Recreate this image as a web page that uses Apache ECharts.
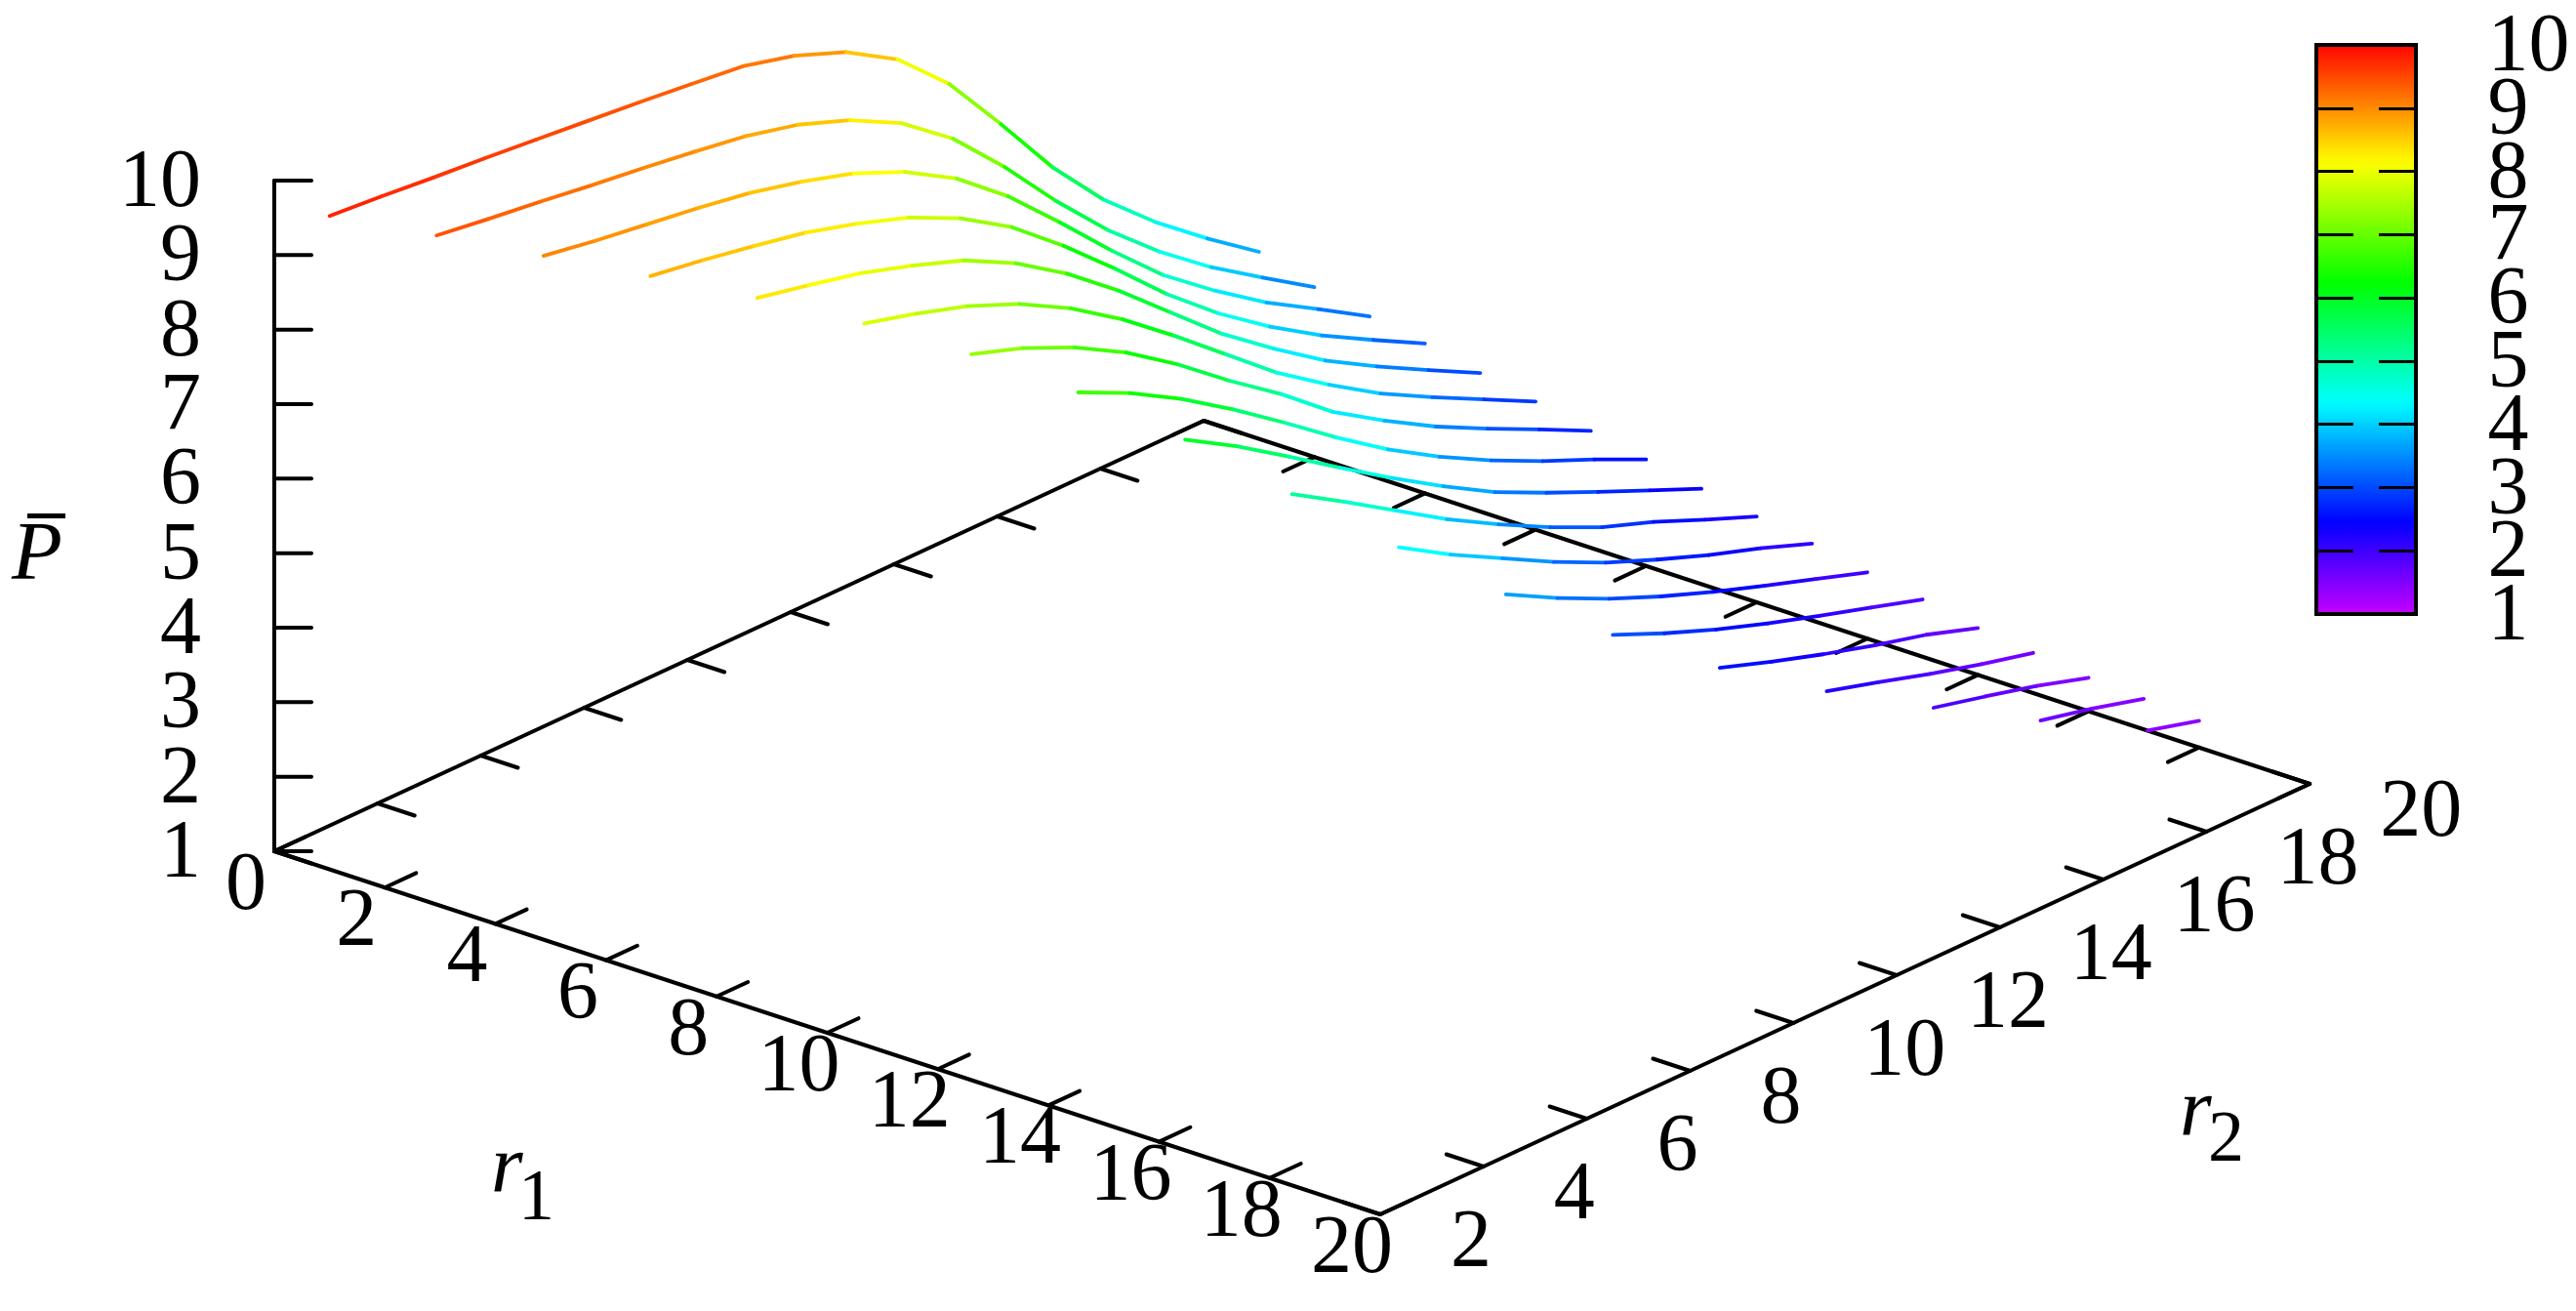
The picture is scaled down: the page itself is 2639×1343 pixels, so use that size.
<!DOCTYPE html>
<html>
<head>
<meta charset="utf-8">
<title>P bar</title>
<style>
html, body { margin: 0; padding: 0; background: #fff; }
#main { width: 2639px; height: 1343px; }
</style>
<script src="https://cdn.jsdelivr.net/npm/echarts@6/dist/echarts.min.js"></script>
</head>
<body>
<div id="main"></div>
<script>
// one curve per r1, r2 runs from r1+1 up to 20
var r1Values = [1, 2, 3, 4, 5, 6, 7, 8, 9, 10, 11, 12, 13, 14, 15, 16, 17, 18];
var pR1_1 = [9.77, 9.71, 9.64, 9.58, 9.51, 9.44, 9.37, 9.29, 9.21, 9.03, 8.76, 8.34, 7.69, 6.83, 5.93, 5.17, 4.55, 4.01, 3.51];
var pR1_2 = [9.43, 9.33, 9.24, 9.14, 9.05, 8.95, 8.84, 8.67, 8.41, 8.05, 7.52, 6.82, 6.04, 5.33, 4.72, 4.19, 3.73, 3.28];
var pR1_3 = [9.08, 8.96, 8.86, 8.76, 8.64, 8.47, 8.26, 7.96, 7.55, 6.99, 6.32, 5.62, 4.97, 4.44, 3.96, 3.55, 3.13];
var pR1_4 = [8.73, 8.62, 8.49, 8.35, 8.15, 7.91, 7.58, 7.14, 6.57, 5.94, 5.28, 4.70, 4.20, 3.76, 3.38, 3.01];
var pR1_5 = [8.36, 8.21, 8.05, 7.83, 7.58, 7.22, 6.76, 6.21, 5.60, 4.99, 4.47, 3.99, 3.59, 3.22, 2.86];
var pR1_6 = [7.94, 7.75, 7.53, 7.24, 6.86, 6.39, 5.85, 5.28, 4.71, 4.23, 3.79, 3.42, 3.07, 2.72];
var pR1_7 = [7.45, 7.21, 6.90, 6.51, 6.03, 5.49, 4.99, 4.43, 3.99, 3.59, 3.24, 2.91, 2.57];
var pR1_8 = [6.86, 6.53, 6.13, 5.67, 5.17, 4.65, 4.17, 3.75, 3.38, 3.05, 2.75, 2.43];
var pR1_9 = [6.15, 5.74, 5.28, 4.81, 4.35, 3.92, 3.52, 3.19, 2.88, 2.58, 2.28];
var pR1_10 = [5.34, 4.92, 4.48, 4.04, 3.65, 3.29, 2.97, 2.72, 2.43, 2.15];
var pR1_11 = [4.55, 4.13, 3.76, 3.39, 3.06, 2.78, 2.52, 2.29, 2.03];
var pR1_12 = [3.84, 3.47, 3.14, 2.85, 2.59, 2.35, 2.12, 1.89];
var pR1_13 = [3.22, 2.92, 2.65, 2.41, 2.19, 1.98, 1.77];
var pR1_14 = [2.70, 2.46, 2.24, 2.04, 1.86, 1.63];
var pR1_15 = [2.31, 2.11, 1.90, 1.71, 1.54];
var pR1_16 = [2.01, 1.84, 1.66, 1.45];
var pR1_17 = [1.76, 1.60, 1.41];
var pR1_18 = [1.55, 1.36];
var pCurves = [pR1_1, pR1_2, pR1_3, pR1_4, pR1_5, pR1_6, pR1_7, pR1_8, pR1_9, pR1_10, pR1_11, pR1_12, pR1_13, pR1_14, pR1_15, pR1_16, pR1_17, pR1_18];

// tick labels
var r1Ticks = [0, 2, 4, 6, 8, 10, 12, 14, 16, 18, 20];
var r2Ticks = [2, 4, 6, 8, 10, 12, 14, 16, 18, 20];
var pTicks = [1, 2, 3, 4, 5, 6, 7, 8, 9, 10];

var FONT = '"Liberation Serif", "Times New Roman", serif';

// view of the box, gnuplot style orthographic
function project(r1, r2, p) {
    return [
        281 + 56.65 * r1 + 52.9 * (r2 - 2),
        872 + 18.6 * r1 - 24.5 * (r2 - 2) - 76.33 * (p - 1)
    ];
}

// same rainbow as the colour box
function paletteColor(z) {
    return 'hsl(' + ((10 - z) * 31.9) + ',100%,50%)';
}

//曲线分段, each piece gets one colour
var curveSegments = [];
for (var i = 0; i < r1Values.length; i++) {
    var r1 = r1Values[i];
    var vals = pCurves[i];
    for (var j = 0; j < vals.length - 1; j++) {
        curveSegments.push([r1, r1 + 1 + j, vals[j], r1, r1 + 2 + j, vals[j + 1]]);
    }
}

var frameEdges = [
    [0, 2, 1, 20, 2, 1],
    [20, 2, 1, 20, 20, 1],
    [0, 2, 1, 0, 20, 1],
    [0, 20, 1, 20, 20, 1],
    [0, 2, 1, 0, 2, 10]
];

// tick start plus pixel length
var frameTicks = [];
r1Ticks.forEach(function (t) {
    frameTicks.push([t, 2, 1, 32, -14.8]);
    frameTicks.push([t, 20, 1, -32, 14.8]);
});
r2Ticks.forEach(function (t) {
    frameTicks.push([20, t, 1, -38, -12.5]);
    frameTicks.push([0, t, 1, 38, 12.5]);
});
pTicks.forEach(function (t) {
    frameTicks.push([0, 2, t, 38, 0]);
});

// value, anchor point, pixel shift, align
var tickLabels = [];
r1Ticks.forEach(function (t) {
    tickLabels.push([String(t), t, 2, 1, -29, 37, 'center']);
});
r2Ticks.forEach(function (t) {
    tickLabels.push([String(t), 20, t, 1, 72, 31, 'left']);
});
pTicks.forEach(function (t) {
    tickLabels.push([String(t), 0, 2, t, -75, 4, 'right']);
});

function renderSegment(params, api) {
    var a = project(api.value(0), api.value(1), api.value(2));
    var b = project(api.value(3), api.value(4), api.value(5));
    var s = api.coord(a);
    var e = api.coord(b);
    return {
        type: 'line',
        shape: { x1: s[0], y1: s[1], x2: e[0], y2: e[1] },
        style: { stroke: this.color(api), lineWidth: this.width, lineCap: 'round' }
    };
}

function renderTick(params, api) {
    var s = api.coord(project(api.value(0), api.value(1), api.value(2)));
    return {
        type: 'line',
        shape: { x1: s[0], y1: s[1], x2: s[0] + api.value(3), y2: s[1] + api.value(4) },
        style: { stroke: '#000', lineWidth: 4, lineCap: 'round' }
    };
}

function renderTickLabel(params, api) {
    var item = tickLabels[params.dataIndex];
    var s = api.coord(project(item[1], item[2], item[3]));
    return {
        type: 'text',
        x: s[0] + item[4],
        y: s[1] + item[5],
        style: { text: item[0], fontFamily: FONT, fontSize: 84, fill: '#000', align: item[6], verticalAlign: 'middle' }
    };
}

// titles: letter plus subscript
function renderTitles(params, api) {
    return {
        type: 'group',
        children: [
            titleText('r', 503, 1199, 84, 'italic'),
            titleText('1', 531, 1230, 74, 'normal'),
            titleText('r', 2233, 1141, 84, 'italic'),
            titleText('2', 2262, 1170, 74, 'normal'),
            titleText('P', 12, 571, 85, 'italic'),
            { type: 'rect', shape: { x: 28, y: 526, width: 39, height: 5 }, style: { fill: '#000' } }
        ]
    };
}

function titleText(txt, x, y, size, fontStyle) {
    return {
        type: 'text',
        x: x,
        y: y,
        style: { text: txt, fontFamily: FONT, fontSize: size, fontStyle: fontStyle, fill: '#000', align: 'left', verticalAlign: 'middle' }
    };
}

function renderColorBox(params, api) {
    var top = api.coord([0, 10]);
    var bottom = api.coord([1, 1]);
    var stops = [];
    for (var i = 0; i <= 60; i++) {
        stops.push({ offset: i / 60, color: paletteColor(10 - 9 * i / 60) });
    }
    return {
        type: 'rect',
        shape: { x: top[0], y: top[1], width: bottom[0] - top[0], height: bottom[1] - top[1] },
        style: {
            fill: new echarts.graphic.LinearGradient(0, 0, 0, 1, stops),
            stroke: '#000',
            lineWidth: 4
        }
    };
}

function renderColorLabel(params, api) {
    var s = api.coord([api.value(0), api.value(1)]);
    return {
        type: 'text',
        x: s[0],
        y: s[1] + 4,
        style: { text: String(api.value(1)), fontFamily: FONT, fontSize: 84, fill: '#000', align: 'left', verticalAlign: 'middle' }
    };
}

var colorLabelData = pTicks.map(function (t) { return [1.72, t]; });

function boxAxis(pos) {
    return {
        gridIndex: 1,
        position: pos,
        type: 'value',
        min: 1,
        max: 10,
        interval: 1,
        z: 5,
        axisLine: { show: false },
        axisLabel: { show: false },
        splitLine: { show: false },
        axisTick: { show: true, inside: true, length: 38, lineStyle: { color: '#000', width: 3 } }
    };
}

var option = {
    backgroundColor: '#fff',
    animation: false,
    grid: [
        { left: 0, top: 0, width: 2639, height: 1343 },
        { left: 2373, top: 46, width: 102, height: 583 }
    ],
    xAxis: [
        { gridIndex: 0, type: 'value', min: 0, max: 2639, show: false },
        { gridIndex: 1, type: 'value', min: 0, max: 1, show: false }
    ],
    yAxis: [
        { gridIndex: 0, type: 'value', min: 0, max: 1343, inverse: true, show: false },
        boxAxis('left'),
        boxAxis('right')
    ],
    series: [
        {
            type: 'custom', name: 'frame', z: 2, silent: true,
            data: frameEdges,
            renderItem: renderSegment.bind({ color: function () { return '#000'; }, width: 4 })
        },
        {
            type: 'custom', name: 'ticks', z: 2, silent: true,
            data: frameTicks,
            renderItem: renderTick
        },
        {
            type: 'custom', name: 'tickLabels', z: 3, silent: true,
            data: tickLabels.map(function (l, i) { return [i]; }),
            renderItem: renderTickLabel
        },
        {
            type: 'custom', name: 'titles', z: 3, silent: true,
            data: [[0]],
            renderItem: renderTitles
        },
        {
            type: 'custom', name: 'curves', z: 4, silent: true,
            data: curveSegments,
            renderItem: renderSegment.bind({
                color: function (api) { return paletteColor((api.value(2) + api.value(5)) / 2); },
                width: 3.8
            })
        },
        {
            type: 'custom', name: 'colorBox', xAxisIndex: 1, yAxisIndex: 1, z: 2, silent: true,
            data: [[0, 1]],
            renderItem: renderColorBox
        },
        {
            type: 'custom', name: 'colorLabels', xAxisIndex: 1, yAxisIndex: 1, z: 3, silent: true,
            data: colorLabelData,
            renderItem: renderColorLabel
        }
    ]
};

var myChart = echarts.init(document.getElementById('main'));
myChart.setOption(option);
</script>
</body>
</html>
